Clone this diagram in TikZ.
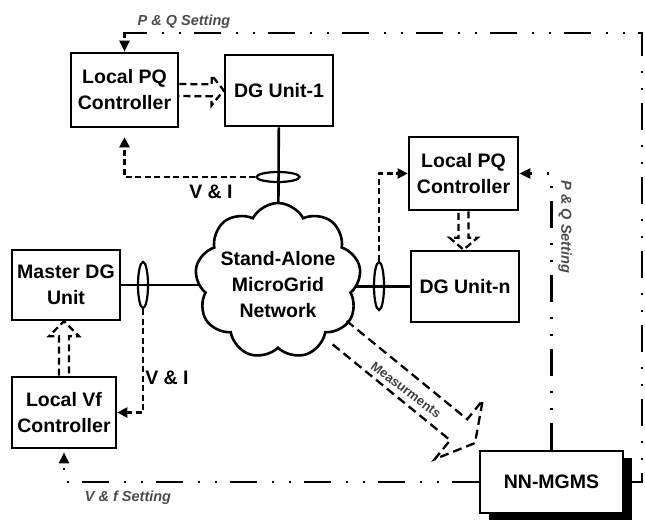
\documentclass[tikz,border=0pt]{standalone}
\usepackage{fontspec}
\setmainfont{Liberation Sans}
\usetikzlibrary{shapes.geometric,shapes.symbols,arrows.meta,calc,shadows}

% hollow block arrow drawn with a dashed outline:
% #1 style, #2 start, #3 tip, #4 half shaft width, #5 head length, #6 half head width
\newcommand{\hollowarrow}[6]{%
  \coordinate (ha-s) at (#2);
  \coordinate (ha-t) at (#3);
  \coordinate (ha-b) at ($(ha-t)!#5!(ha-s)$);
  \draw[#1] ($(ha-s)!#4!90:(ha-t)$) -- ($(ha-b)!#4!90:(ha-t)$)
    -- ($(ha-b)!#6!90:(ha-t)$) -- (ha-t) -- ($(ha-b)!#6!-90:(ha-t)$)
    -- ($(ha-b)!#4!-90:(ha-t)$) -- ($(ha-s)!#4!-90:(ha-t)$);
}

\begin{document}
\begin{tikzpicture}[x=1pt,y=-1pt,
  box/.style={draw,line width=2.6pt,fill=white,align=center,
    font=\bfseries\fontsize{19.5}{26}\selectfont,inner sep=0pt},
  wire/.style={line width=2.6pt},
  ring/.style={draw,ellipse,line width=2.2pt,inner sep=0pt},
  sense/.style={line width=2.3pt,dash pattern=on 6pt off 3.5pt,
    -{Triangle[length=10pt,width=10pt]}},
  setting/.style={line width=2.3pt,
    dash pattern=on 27pt off 13pt on 2pt off 15pt on 2pt off 15pt,
    -{Triangle[length=11pt,width=10pt]}},
  hollow/.style={line width=2.3pt,dash pattern=on 7pt off 4pt,line join=miter},
  lbl/.style={font=\bfseries\fontsize{19.5}{26}\selectfont},
  setlbl/.style={font=\bfseries\itshape\fontsize{14.5}{17}\selectfont,text=black!70},
  meslbl/.style={font=\bfseries\fontsize{13}{15}\selectfont,text=black!75,inner sep=1pt}
]
\useasboundingbox (0,0) rectangle (645,522);

% blocks
\node[box,minimum width=107pt,minimum height=74pt] (pq1) at (124.5,90) {Local PQ\\Controller};
\node[box,minimum width=108pt,minimum height=71pt] (dg1) at (279,90.5) {DG Unit-1};
\node[box,minimum width=108pt,minimum height=70pt] (master) at (66,285) {Master DG\\Unit};
\node[box,minimum width=104pt,minimum height=71pt] (vf) at (64,412.5) {Local Vf\\Controller};
\node[box,minimum width=109pt,minimum height=73pt] (pqn) at (463.5,173.5) {Local PQ\\Controller};
\node[box,minimum width=108pt,minimum height=71pt] (dgn) at (465,286.5) {DG Unit-n};
\node[box,minimum width=143pt,minimum height=62pt,
  drop shadow={shadow xshift=9pt,shadow yshift=-7pt,fill=black,opacity=1}] (nn) at (551.5,482) {NN-MGMS};

% feeders into the network
\coordinate (cc) at (278,281);
\draw[wire] (dg1) -- (cc);
\draw[wire] (master) -- (master -| cc);
\draw[wire] (dgn) -- (dgn -| cc);

% the network cloud and its caption
\node[cloud,draw,line width=2.6pt,fill=white,cloud puffs=9,cloud puff arc=125,
  minimum width=166pt,minimum height=156pt,inner sep=0pt] (cloud) at (cc) {};
\node[align=center,font=\bfseries\fontsize{19.5}{26}\selectfont] (net) at (278,285)
  {Stand-Alone\\MicroGrid\\Network};

% measurement rings
\node[ring,minimum width=43pt,minimum height=10pt] (e1) at (278,177) {};
\node[ring,minimum width=10pt,minimum height=46pt] (e2) at (143,285) {};
\node[ring,minimum width=10pt,minimum height=48pt] (e3) at (379,286) {};

% V & I feedback
\draw[sense,shorten >=9pt] (e1.west) -| (pq1.south);
\draw[sense] (e2.south) |- (vf.east);
\draw[sense] (e3.north) |- (pqn.west);
\node[lbl] (vi1) at (211,192) {V \& I};
\node[lbl] (vi2) at (167,378) {V \& I};

% control signals to the units
\hollowarrow{hollow}{pq1.east}{dg1.west}{6pt}{12pt}{15pt}
\hollowarrow{hollow}{vf.north}{vf.north |- master.south}{5pt}{15pt}{15pt}
\hollowarrow{hollow}{pqn.south}{pqn.south |- dgn.north}{5pt}{12pt}{14pt}

% measurements to the management system
\coordinate (mtip) at (475,443);
\hollowarrow{line width=2.3pt,dash pattern=on 9pt off 5pt,line join=miter}{cloud.-40}{mtip}{13.5pt}{21pt}{38pt}
\node[meslbl,rotate=-37] (mes) at (406,390) {Measurments};

% set-points from NN-MGMS
\coordinate (tr) at (642,33);
\draw[setting] (nn.east) -| (tr) -| (pq1.north);
\draw[setting,shorten >=3pt] (nn.west) -| (vf.south);
\draw[setting] (nn.north) |- (pqn.east);
\node[setlbl] (pqs1) at (184,22) {P \& Q Setting};
\node[setlbl] (vfs) at (128,498) {V \& f Setting};
\node[setlbl,rotate=-90] (pqs2) at (565,227) {P \& Q Setting};
\end{tikzpicture}
\end{document}
